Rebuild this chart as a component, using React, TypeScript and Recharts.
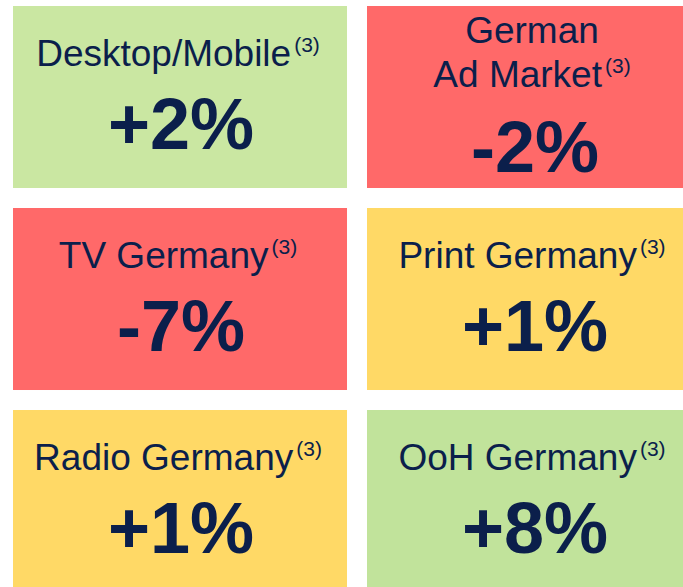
import React from 'react';
import { ScatterChart, Scatter, XAxis, YAxis } from 'recharts';

// ---- data ----
const categories: string[][] = [
  ['Desktop/Mobile'],
  ['German', 'Ad Market'],
  ['TV Germany'],
  ['Print Germany'],
  ['Radio Germany'],
  ['OoH Germany'],
];
const changes: number[] = [2, -2, -7, 1, 1, 8];
const valueLabels: string[] = ['+2%', '-2%', '-7%', '+1%', '+1%', '+8%'];
const footnotes: string[] = ['(3)', '(3)', '(3)', '(3)', '(3)', '(3)'];
const gridCols: number[] = [0, 1, 0, 1, 0, 1];
const gridRows: number[] = [0, 0, 1, 1, 2, 2];

// ---- styles ----
const TILE_FILLS = ['#CAE7A2', '#FF6969', '#FF6969', '#FFD966', '#FFD966', '#C1E39B'];
const TEXT = '#0B1F4B';
const FONT = '"Liberation Sans", Arial, sans-serif';
const TILE_W = 334;
const TILE_H = 182;

const data = categories.map((lines, i) => ({
  lines,
  change: changes[i],
  value: valueLabels[i],
  note: footnotes[i],
  col: gridCols[i],
  row: gridRows[i],
  fill: TILE_FILLS[i],
}));

const Tile = (props: any) => {
  const { cx, cy, payload } = props;
  if (cx == null || cy == null) return null;
  const lines: string[] = payload.lines;
  const two = lines.length > 1;
  const labelYs = two ? [cy - 54, cy - 10] : [cy - 31];
  const valueY = two ? cy + 75 : cy + 52;
  return (
    <g>
      <rect x={cx - TILE_W / 2} y={cy - TILE_H / 2} width={TILE_W} height={TILE_H} fill={payload.fill} />
      {lines.map((ln, k) => {
        const last = k === lines.length - 1;
        return (
          <text
            key={k}
            x={cx - 2}
            y={labelYs[k]}
            textAnchor="middle"
            fontFamily={FONT}
            fontSize={37}
            fill={TEXT}
          >
            <tspan>{ln}</tspan>
            {last ? (
              <tspan dx={3} dy={-14} fontSize={21}>
                {payload.note}
              </tspan>
            ) : null}
          </text>
        );
      })}
      <text
        x={cx + 1}
        y={valueY}
        textAnchor="middle"
        fontFamily={FONT}
        fontSize={72}
        fontWeight="bold"
        fill={TEXT}
      >
        {payload.value}
      </text>
    </g>
  );
};

export default function App() {
  return (
    <div style={{ position: 'absolute', left: 0, top: 0, width: 683, height: 587, background: '#FFFFFF' }}>
      <ScatterChart width={683} height={587} margin={{ top: 0, right: 0, bottom: 0, left: 0 }}>
        <XAxis
          type="number"
          dataKey="col"
          hide
          domain={[-0.5085, 1.4209]}
          allowDataOverflow
        />
        <YAxis
          type="number"
          dataKey="row"
          hide
          reversed
          domain={[-0.4802, 2.4257]}
          allowDataOverflow
        />
        <Scatter data={data} shape={Tile} isAnimationActive={false} />
      </ScatterChart>
    </div>
  );
}
